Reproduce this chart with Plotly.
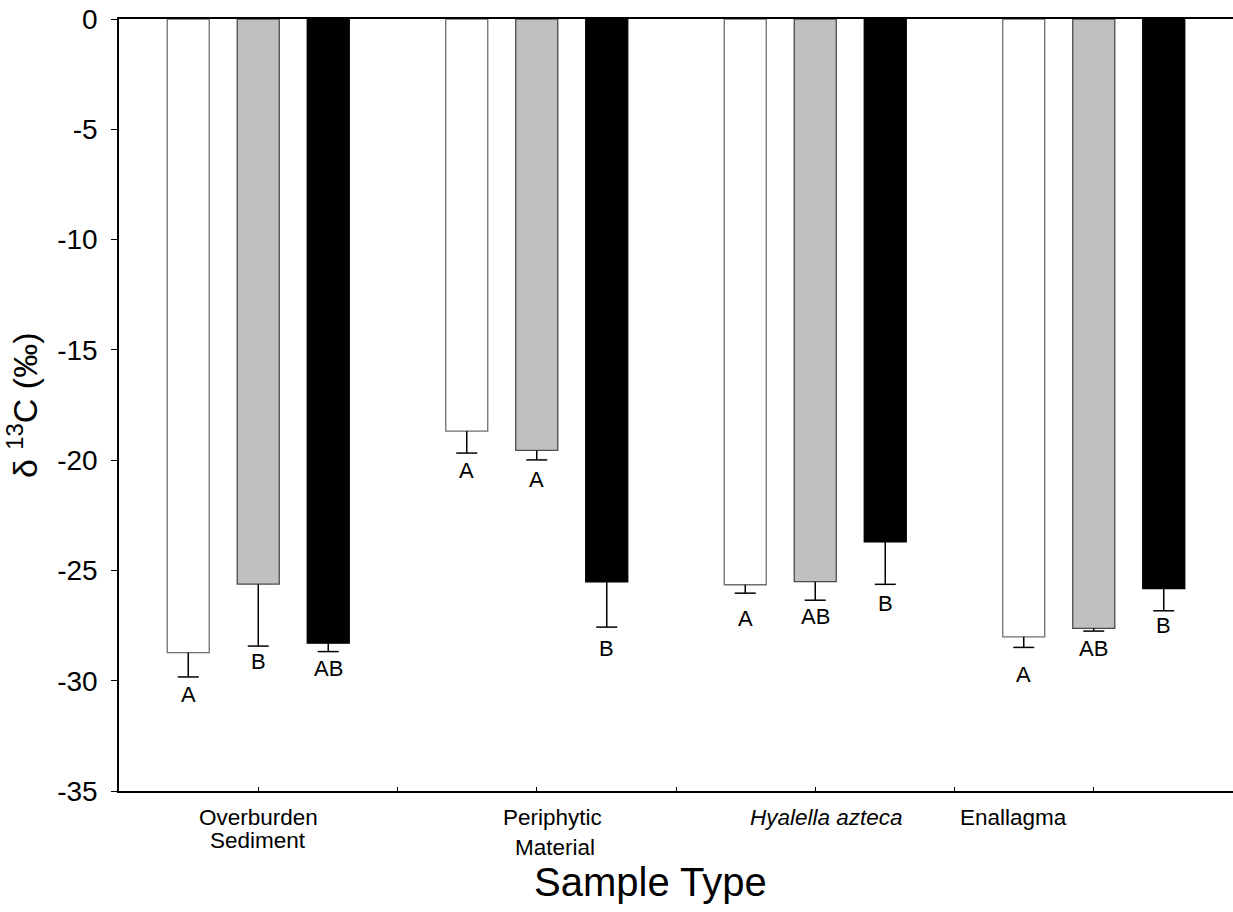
import plotly.graph_objects as go

categories = ["Overburden Sediment", "Periphytic Material", "Hyalella azteca", "Enallagma"]
tick_line1 = ["Overburden", "Periphytic", "<i>Hyalella azteca</i>", "Enallagma"]
tick_line2 = ["Sediment", "Material", "", ""]

series_names = ["Series 1", "Series 2", "Series 3"]
means = [
    [-28.73, -18.68, -25.65, -28.01],
    [-25.62, -19.56, -25.51, -27.63],
    [-28.30, -25.52, -23.70, -25.82],
]
errors = [
    [1.10, 1.00, 0.38, 0.48],
    [2.81, 0.43, 0.84, 0.12],
    [0.38, 2.05, 1.93, 1.01],
]
letters = [
    ["A", "A", "A", "A"],
    ["B", "A", "AB", "AB"],
    ["AB", "B", "B", "B"],
]
y_ticks = [0, -5, -10, -15, -20, -25, -30, -35]

# ---- styles ----
FONT = "Arial, Liberation Sans, sans-serif"
fills = ["#ffffff", "#c0c0c0", "#000000"]
outlines = ["#6e6e6e", "#4a4a4a", "#000000"]
label_gap = [[18, 17, 25, 27], [15, 20, 16, 17], [17, 21, 19, 15]]  # px below cap (text centre)
line1_shift = [0, 16, 11, -80]      # px horizontal shift of category labels
line2_shift = [0, 18, 0, 0]
line2_y = [-49, -56, 0, 0]          # px below axis (text centre)

x = list(range(len(categories)))
bargap, bargroupgap = 0.246, 0.4
slot = (1 - bargap) / len(means)

fig = go.Figure()
for s in range(len(means)):
    fig.add_trace(go.Bar(
        x=x, y=means[s], name=series_names[s],
        marker=dict(color=fills[s], line=dict(color=outlines[s], width=1.3)),
        error_y=dict(type="data", symmetric=False, array=[0] * len(x),
                     arrayminus=errors[s], color="#000000", thickness=1.5, width=0),
        showlegend=False,
    ))

# error-bar caps
for s in range(len(means)):
    xs = [i + (s - (len(means) - 1) / 2) * slot for i in x]
    ys = [m - e for m, e in zip(means[s], errors[s])]
    fig.add_trace(go.Scatter(
        x=xs, y=ys, mode="markers", showlegend=False, hoverinfo="skip",
        marker=dict(symbol="line-ew", size=15, line=dict(color="#000", width=1.5)),
    ))

annotations = []
for s in range(len(means)):
    for i in x:
        annotations.append(dict(
            x=i + (s - (len(means) - 1) / 2) * slot, y=means[s][i] - errors[s][i],
            xref="x", yref="y", text=letters[s][i], showarrow=False,
            yanchor="middle", yshift=-label_gap[s][i],
            font=dict(family=FONT, size=22, color="#000"),
        ))

# category labels
for i in x:
    annotations.append(dict(
        x=i, y=0, xref="x", yref="paper", text=tick_line1[i], showarrow=False,
        yanchor="middle", yshift=-26, xshift=line1_shift[i],
        font=dict(family=FONT, size=22.5, color="#000"),
    ))
    if tick_line2[i]:
        annotations.append(dict(
            x=i, y=0, xref="x", yref="paper", text=tick_line2[i], showarrow=False,
            yanchor="middle", yshift=line2_y[i], xshift=line2_shift[i],
            font=dict(family=FONT, size=22.5, color="#000"),
        ))

# axis titles
annotations.append(dict(
    x=0.477, y=0, xref="paper", yref="paper", text="Sample Type", showarrow=False,
    yanchor="middle", yshift=-91,
    font=dict(family=FONT, size=40, color="#000"),
))
annotations.append(dict(
    x=0, y=0.5, xref="paper", yref="paper", text="δ <sup>13</sup>C (‰)", showarrow=False,
    textangle=-90, xanchor="center", yanchor="middle", xshift=-97,
    font=dict(family=FONT, size=34, color="#000"),
))

fig.update_layout(
    width=1233, height=912,
    margin=dict(l=119, r=0, t=19, b=121),
    paper_bgcolor="white", plot_bgcolor="white",
    barmode="group", bargap=bargap, bargroupgap=bargroupgap,
    font=dict(family=FONT, color="#000"),
    annotations=annotations,
    xaxis=dict(
        range=[-0.5, 3.5], tickvals=x, showticklabels=False,
        showline=True, linecolor="#000", linewidth=1.5, mirror=True,
        ticks="inside", ticklen=4, tickcolor="#000",
        minor=dict(dtick=0.5, tick0=0, ticks="inside", ticklen=4, tickcolor="#000"),
        showgrid=False, zeroline=False,
    ),
    yaxis=dict(
        range=[-35, 0], tickvals=y_ticks, ticktext=[str(v) for v in y_ticks],
        showline=True, linecolor="#000", linewidth=1.5,
        ticks="outside", ticklen=6, tickcolor="#000",
        ticklabelstandoff=8,
        showgrid=False, zeroline=False,
        tickfont=dict(family=FONT, size=28, color="#000"),
    ),
)

fig.write_html("out.html")
